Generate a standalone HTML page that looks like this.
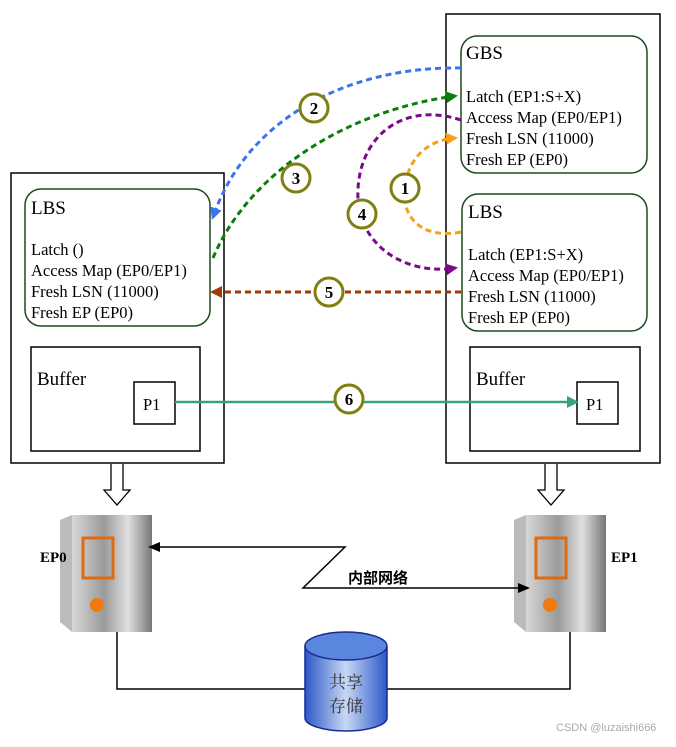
<!DOCTYPE html>
<html><head><meta charset="utf-8"><style>
body{margin:0;background:#fff;width:676px;height:742px;overflow:hidden}
svg text{font-family:"Liberation Serif",serif}
</style></head><body>
<svg width="676" height="742" viewBox="0 0 676 742" xmlns="http://www.w3.org/2000/svg">
<defs>
<linearGradient id="cyl" x1="0" x2="1"><stop offset="0" stop-color="#2c58c8"/><stop offset="0.5" stop-color="#c8d8f4"/><stop offset="1" stop-color="#2c58c8"/></linearGradient>
<linearGradient id="srv" x1="0" x2="1"><stop offset="0" stop-color="#d8d8d8"/><stop offset="0.4" stop-color="#9a9a9a"/><stop offset="0.7" stop-color="#e0e0e0"/><stop offset="1" stop-color="#777"/></linearGradient>
<marker id="mb" markerWidth="12" markerHeight="12" refX="9" refY="6" orient="auto" markerUnits="userSpaceOnUse"><path d="M0,0L12,6L0,12z" fill="#3a74f0"/></marker>
<marker id="mg" markerWidth="12" markerHeight="12" refX="9" refY="6" orient="auto" markerUnits="userSpaceOnUse"><path d="M0,0L12,6L0,12z" fill="#0a7d0a"/></marker>
<marker id="mp" markerWidth="12" markerHeight="12" refX="9" refY="6" orient="auto" markerUnits="userSpaceOnUse"><path d="M0,0L12,6L0,12z" fill="#7a0a8a"/></marker>
<marker id="mo" markerWidth="12" markerHeight="12" refX="9" refY="6" orient="auto" markerUnits="userSpaceOnUse"><path d="M0,0L12,6L0,12z" fill="#f5a01a"/></marker>
<marker id="mr" markerWidth="12" markerHeight="12" refX="9" refY="6" orient="auto" markerUnits="userSpaceOnUse"><path d="M0,0L12,6L0,12z" fill="#a03a0a"/></marker>
<marker id="mt" markerWidth="12" markerHeight="12" refX="9" refY="6" orient="auto" markerUnits="userSpaceOnUse"><path d="M0,0L12,6L0,12z" fill="#3aa37a"/></marker>
<marker id="mk" markerWidth="12" markerHeight="10" refX="10" refY="5" orient="auto" markerUnits="userSpaceOnUse"><path d="M0,0L12,5L0,10z" fill="#000"/></marker>
</defs>
<g fill="none" stroke="#000" stroke-width="1.5">
<rect x="11" y="173" width="213" height="290"/>
<rect x="446" y="14" width="214" height="449"/>
<rect x="31" y="347" width="169" height="104"/>
<rect x="134" y="382" width="41" height="42"/>
<rect x="470" y="347" width="170" height="104"/>
<rect x="577" y="382" width="41" height="42"/>
</g>
<g fill="#fff" stroke="#1e4a1e" stroke-width="1.5">
<rect x="25" y="189" width="185" height="137" rx="16"/>
<rect x="461" y="36" width="186" height="137" rx="16"/>
<rect x="462" y="194" width="185" height="137" rx="16"/>
</g>
<g font-size="16.5" fill="#000">
<text x="31" y="214" font-size="19">LBS</text>
<text x="31" y="255">Latch ()</text>
<text x="31" y="276">Access Map (EP0/EP1)</text>
<text x="31" y="297">Fresh LSN (11000)</text>
<text x="31" y="318">Fresh EP (EP0)</text>
<text x="466" y="59" font-size="19">GBS</text>
<text x="466" y="102">Latch (EP1:S+X)</text>
<text x="466" y="123">Access Map (EP0/EP1)</text>
<text x="466" y="144">Fresh LSN (11000)</text>
<text x="466" y="165">Fresh EP (EP0)</text>
<text x="468" y="218" font-size="19">LBS</text>
<text x="468" y="260">Latch (EP1:S+X)</text>
<text x="468" y="281">Access Map (EP0/EP1)</text>
<text x="468" y="302">Fresh LSN (11000)</text>
<text x="468" y="323">Fresh EP (EP0)</text>
<text x="37" y="385" font-size="19">Buffer</text>
<text x="476" y="385" font-size="19">Buffer</text>
<text x="143" y="410">P1</text>
<text x="586" y="410">P1</text>
</g>
<g fill="none" stroke-width="3" stroke-dasharray="6,4">
<path d="M461,68 C360,66 250,110 213,217" stroke="#3a74f0" marker-end="url(#mb)"/>
<path d="M213,258 C250,170 350,110 455,96" stroke="#0a7d0a" marker-end="url(#mg)"/>
<path d="M461,120 C400,100 355,140 358,200 C362,250 410,275 455,268" stroke="#7a0a8a" marker-end="url(#mp)"/>
<path d="M461,232 C420,240 400,215 405,185 C410,155 430,140 455,138" stroke="#f5a01a" marker-end="url(#mo)"/>
<path d="M461,292 L213,292" stroke="#a03a0a" marker-end="url(#mr)"/>
</g>
<path d="M175,402 L576,402" stroke="#3aa37a" stroke-width="2.5" marker-end="url(#mt)"/>
<g fill="#fff" stroke="#808010" stroke-width="3">
<circle cx="405" cy="188" r="14"/><circle cx="314" cy="108" r="14"/><circle cx="296" cy="178" r="14"/>
<circle cx="362" cy="214" r="14"/><circle cx="329" cy="292" r="14"/><circle cx="349" cy="399" r="14"/>
</g>
<g font-size="17" font-weight="bold" text-anchor="middle">
<text x="405" y="194">1</text><text x="314" y="114">2</text><text x="296" y="184">3</text>
<text x="362" y="220">4</text><text x="329" y="298">5</text><text x="349" y="405">6</text>
</g>
<g fill="#fff" stroke="#000" stroke-width="1.3">
<path d="M111,464 L111,490 L104,490 L117,505 L130,490 L123,490 L123,464"/>
<path d="M545,464 L545,490 L538,490 L551,505 L564,490 L557,490 L557,464"/>
</g>
<g>
<path d="M60,520 L72,515 L152,515 L152,632 L72,632 L60,622z" fill="#bbb"/>
<rect x="72" y="515" width="80" height="117" fill="url(#srv)"/>
<rect x="83" y="538" width="30" height="40" fill="none" stroke="#e06a10" stroke-width="3"/>
<circle cx="97" cy="605" r="7" fill="#f07a10"/>
<path d="M514,520 L526,515 L606,515 L606,632 L526,632 L514,622z" fill="#bbb"/>
<rect x="526" y="515" width="80" height="117" fill="url(#srv)"/>
<rect x="536" y="538" width="30" height="40" fill="none" stroke="#e06a10" stroke-width="3"/>
<circle cx="550" cy="605" r="7" fill="#f07a10"/>
</g>
<text x="40" y="562" font-size="15" font-weight="bold">EP0</text>
<text x="611" y="562" font-size="15" font-weight="bold">EP1</text>
<g fill="none" stroke="#000" stroke-width="1.5">
<path d="M265,547 L150,547" marker-end="url(#mk)"/>
<path d="M265,547 L345,547 L303,588 L528,588" marker-end="url(#mk)"/>
<path d="M117,632 L117,689 L305,689"/>
<path d="M387,689 L570,689 L570,632"/>
</g>
<text x="348" y="583" font-size="15" font-weight="bold" style="font-family:'Liberation Sans','Noto Sans CJK SC',sans-serif">内部网络</text>
<path d="M305,646 L305,718 A41,13 0 0 0 387,718 L387,646" fill="url(#cyl)" stroke="#1a2a90" stroke-width="1.5"/>
<ellipse cx="346" cy="646" rx="41" ry="14" fill="#5a86e0" stroke="#1a2a90" stroke-width="1.5"/>
<text x="346" y="688" font-size="17" text-anchor="middle" style="font-family:'Liberation Serif','Noto Serif CJK SC',serif" fill="#333">共享</text>
<text x="346" y="712" font-size="17" text-anchor="middle" style="font-family:'Liberation Serif','Noto Serif CJK SC',serif" fill="#333">存储</text>
<text x="556" y="731" font-size="11" fill="#aaa" style="font-family:'Liberation Sans',sans-serif">CSDN @luzaishi666</text>
</svg>
</body></html>
